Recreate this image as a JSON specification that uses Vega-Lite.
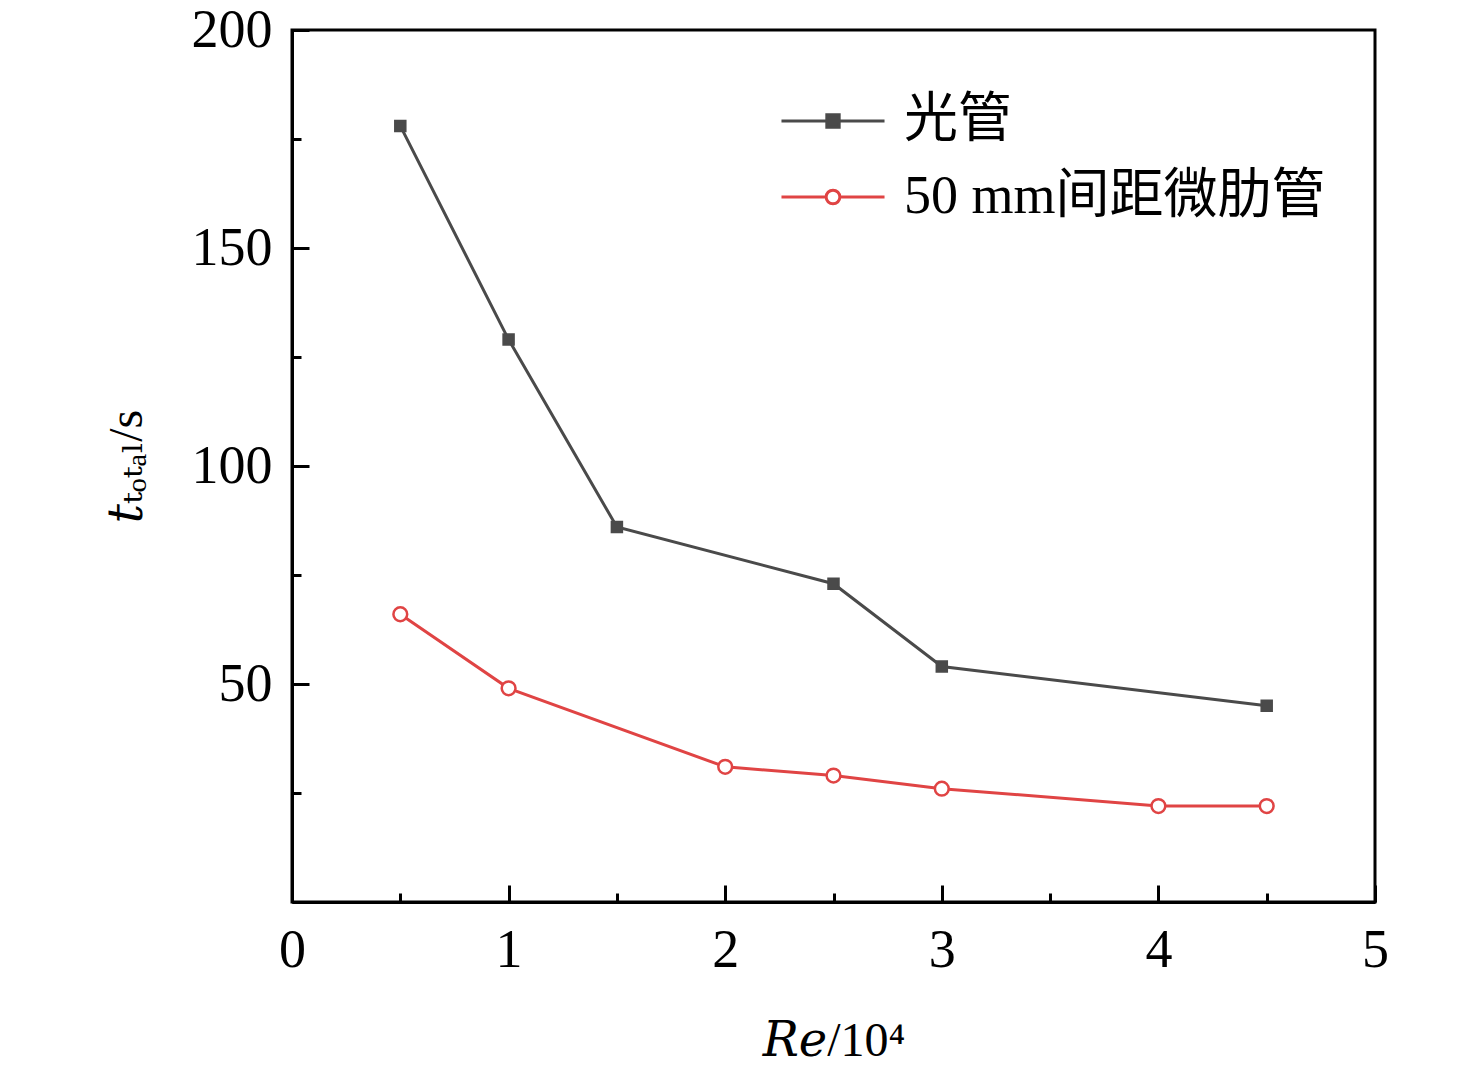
{
  "$schema": "https://vega.github.io/schema/vega-lite/v6.json",
  "width": 1083,
  "height": 872,
  "autosize": "none",
  "padding": {"left": 292, "top": 30, "right": 101, "bottom": 171},
  "background": "white",
  "config": {
    "view": {"stroke": "black", "strokeWidth": 3},
    "font": "Liberation Serif",
    "axis": {
      "domainColor": "black",
      "domainWidth": 3,
      "tickColor": "black",
      "tickWidth": 3,
      "grid": false,
      "labelFont": "Liberation Serif",
      "labelFontSize": 54,
      "labelColor": "black",
      "labelFlush": false,
      "titleFont": "Liberation Serif, DejaVu Serif",
      "titleFontSize": 48,
      "titleFontWeight": "normal",
      "titleColor": "black"
    }
  },
  "data": {
    "values": [
      {"Re": 0.5, "t": 178, "series": "光管"},
      {"Re": 1.0, "t": 129, "series": "光管"},
      {"Re": 1.5, "t": 86, "series": "光管"},
      {"Re": 2.5, "t": 73, "series": "光管"},
      {"Re": 3.0, "t": 54, "series": "光管"},
      {"Re": 4.5, "t": 45, "series": "光管"},
      {"Re": 0.5, "t": 66, "series": "50 mm间距微肋管"},
      {"Re": 1.0, "t": 49, "series": "50 mm间距微肋管"},
      {"Re": 2.0, "t": 31, "series": "50 mm间距微肋管"},
      {"Re": 2.5, "t": 29, "series": "50 mm间距微肋管"},
      {"Re": 3.0, "t": 26, "series": "50 mm间距微肋管"},
      {"Re": 4.0, "t": 22, "series": "50 mm间距微肋管"},
      {"Re": 4.5, "t": 22, "series": "50 mm间距微肋管"}
    ]
  },
  "encoding": {
    "x": {
      "field": "Re",
      "type": "quantitative",
      "scale": {"domain": [0, 5], "nice": false},
      "axis": {
        "title": "𝑅𝑒/10⁴",
        "titlePadding": 40,
        "values": [0, 0.5, 1, 1.5, 2, 2.5, 3, 3.5, 4, 4.5, 5],
        "labelExpr": "datum.value % 1 === 0 ? format(datum.value, 'd') : ''",
        "tickSize": {"condition": {"test": "datum.value % 1 === 0", "value": -17}, "value": -9},
        "labelPadding": 38
      }
    },
    "y": {
      "field": "t",
      "type": "quantitative",
      "scale": {"domain": [0, 200], "nice": false},
      "axis": {
        "title": "𝑡ₜₒₜₐₗ/s",
        "titlePadding": 40,
        "values": [0, 25, 50, 75, 100, 125, 150, 175, 200],
        "labelExpr": "datum.value % 50 === 0 && datum.value > 0 ? format(datum.value, 'd') : ''",
        "tickSize": {"condition": {"test": "datum.value % 50 === 0", "value": -17}, "value": -9},
        "labelPadding": 37
      }
    }
  },
  "layer": [
    {
      "mark": {"type": "line", "strokeWidth": 3},
      "encoding": {
        "color": {
          "field": "series",
          "type": "nominal",
          "scale": {"domain": ["光管", "50 mm间距微肋管"], "range": ["#4a4a4a", "#e04444"]},
          "legend": {
            "orient": "none",
            "legendX": 505,
            "legendY": 55,
            "title": null,
            "padding": 0,
            "labelFont": "Liberation Serif, Noto Sans CJK SC",
            "labelFontSize": 54,
            "labelColor": "black",
            "labelLimit": 0,
            "labelOffset": 35,
            "symbolSize": 4720,
            "symbolStrokeWidth": 3,
            "rowPadding": 13,
            "encode": {
              "symbols": {
                "update": {
                  "shape": {"signal": "datum.value === '光管' ? 'M-1.5,0H1.5M-0.18,-0.18H0.18V0.18H-0.18Z' : 'M-1.5,0H-0.2M0.2,0H1.5M0.2,0A0.2,0.2 0 1,1 -0.2,0A0.2,0.2 0 1,1 0.2,0'"},
                  "fill": {"signal": "datum.value === '光管' ? '#4a4a4a' : 'white'"},
                  "fillOpacity": {"value": 1},
                  "strokeWidth": {"value": 3}
                }
              }
            }
          }
        }
      }
    },
    {
      "mark": {"type": "point", "opacity": 1, "strokeWidth": 2.5},
      "encoding": {
        "shape": {"condition": {"test": "datum.series === '光管'", "value": "square"}, "value": "circle"},
        "fill": {"condition": {"test": "datum.series === '光管'", "value": "#4a4a4a"}, "value": "white"},
        "stroke": {"condition": {"test": "datum.series === '光管'", "value": "#4a4a4a"}, "value": "#e04444"},
        "size": {"condition": {"test": "datum.series === '光管'", "value": 100}, "value": 190}
      }
    }
  ]
}
